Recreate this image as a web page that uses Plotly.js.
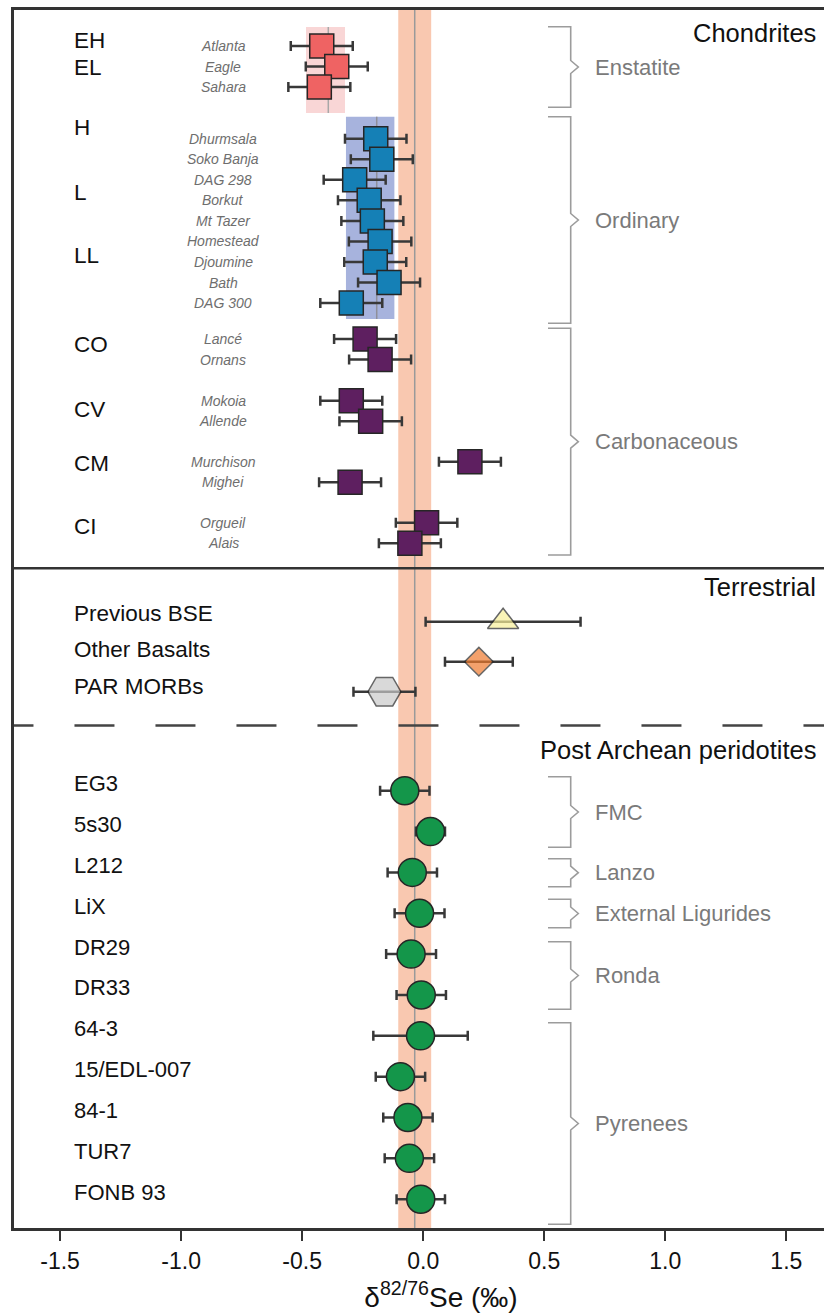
<!DOCTYPE html>
<html><head><meta charset="utf-8">
<script src="https://cdn.plot.ly/plotly-3.0.1.min.js"></script>
<style>html,body{margin:0;padding:0;overflow:hidden;background:#fff;width:824px;height:1314px}#chart{width:868px;height:1314px}</style>
</head><body><div id="chart"></div>
<script>
// ---------------- data ----------------
const enstatiteSamples = ['Atlanta','Eagle','Sahara'];
const enstatiteDelta   = [-0.419,-0.357,-0.429];
const enstatiteErr     = [0.128,0.128,0.128];

const ordinarySamples = ['Dhurmsala','Soko Banja','DAG 298','Borkut','Mt Tazer','Homestead','Djoumine','Bath','DAG 300'];
const ordinaryDelta   = [-0.196,-0.171,-0.283,-0.223,-0.210,-0.178,-0.198,-0.141,-0.297];
const ordinaryErr     = [0.127,0.128,0.128,0.129,0.128,0.129,0.128,0.128,0.128];

const carbonSamples = ['Lancé','Ornans','Mokoia','Allende','Murchison','Mighei','Orgueil','Alais'];
const carbonDelta   = [-0.240,-0.178,-0.297,-0.217,0.193,-0.302,0.014,-0.055];
const carbonErr     = [0.128,0.128,0.128,0.129,0.128,0.128,0.127,0.128];

const chondriteGroupLabels = ['EH','EL','H','L','LL','CO','CV','CM','CI'];

const terrestrialLabels = ['Previous BSE','Other Basalts','PAR MORBs'];
const terrestrialDelta  = [0.33,0.23,-0.16];
const terrestrialErr    = [0.32,0.14,0.128];

const peridotiteSamples = ['EG3','5s30','L212','LiX','DR29','DR33','64-3','15/EDL-007','84-1','TUR7','FONB 93'];
const peridotiteDelta   = [-0.076,0.030,-0.045,-0.015,-0.050,-0.008,-0.011,-0.094,-0.063,-0.057,-0.010];
const peridotiteErr     = [0.102,0.060,0.102,0.103,0.103,0.102,0.195,0.102,0.102,0.102,0.100];

const bracketLabels = ['Enstatite','Ordinary','Carbonaceous','FMC','Lanzo','External Ligurides','Ronda','Pyrenees'];
const sectionTitles = ['Chondrites','Terrestrial','Post Archean peridotites'];

const bseMean = -0.035, bseHalfWidth = 0.068;
const enstatiteMean = -0.392, enstatiteRange = [-0.484,-0.323];
const ordinaryMean  = -0.192, ordinaryRange  = [-0.319,-0.119];

const xTickVals = [-1.5,-1.0,-0.5,0.0,0.5,1.0,1.5];
const xTickText = ['-1.5','-1.0','-0.5','0.0','0.5','1.0','1.5'];

// ---------------- layout geometry (vertical row slots) ----------------
const rowStep = 20.55;
function rows(start, n, step){ const r=[]; for(let i=0;i<n;i++) r.push(start+i*step); return r; }
const enstatiteY = rows(46,3,rowStep);
const ordinaryY  = rows(138.7,9,rowStep);
const carbonY    = [].concat(rows(339,2,rowStep),rows(400.7,2,rowStep),rows(461.7,2,rowStep),rows(522.7,2,rowStep));
const groupLabelY = [40,67.7,127.7,192.7,255.7,344,409.3,463.3,526.7];
const terrestrialY = [621.7,661.7,691.7];
const terrestrialLabelY = [613.5,649.3,686.7];
const peridotiteY = rows(790.7,11,40.85);
const bracketTop = [26.7,116.7,328.3,776.7,858.7,899.3,941.7,1022.7];
const bracketBot = [107.3,323.3,555,847.3,886.7,927.7,1009.3,1224.3];
const sectionTitleY = [33.3,586.7,750];

const FONT = 'Liberation Sans, Arial, Helvetica, sans-serif';
const errStyle = (arr)=>({type:'data',array:arr,visible:true,color:'#383838',thickness:2.5,width:5});
const outline = {color:'#262626',width:1.5};

const traces = [
  {x:enstatiteDelta,y:enstatiteY,mode:'markers',type:'scatter',error_x:errStyle(enstatiteErr),
   marker:{symbol:'square',size:24,color:'#ef6363',line:outline},hoverinfo:'x'},
  {x:ordinaryDelta,y:ordinaryY,mode:'markers',type:'scatter',error_x:errStyle(ordinaryErr),
   marker:{symbol:'square',size:24,color:'#1580b6',line:outline},hoverinfo:'x'},
  {x:carbonDelta,y:carbonY,mode:'markers',type:'scatter',error_x:errStyle(carbonErr),
   marker:{symbol:'square',size:24,color:'#5e1f60',line:outline},hoverinfo:'x'},
  {x:terrestrialDelta,y:terrestrialY,mode:'markers',type:'scatter',error_x:errStyle(terrestrialErr),
   marker:{symbol:['triangle-up','diamond','hexagon2'],size:[27,22,33],color:['#f8f09a','#ee7a2e','#c9c9c9'],line:outline},hoverinfo:'x'},
  {x:peridotiteDelta,y:peridotiteY,mode:'markers',type:'scatter',error_x:errStyle(peridotiteErr),
   marker:{symbol:'circle',size:28,color:'#14964a',line:outline},hoverinfo:'x'}
];

const shapes = [
  // BSE band
  {type:'rect',xref:'x',yref:'paper',x0:bseMean-bseHalfWidth,x1:bseMean+bseHalfWidth,y0:0,y1:1,fillcolor:'#f9c8b0',line:{width:0},layer:'below'},
  {type:'line',xref:'x',yref:'paper',x0:bseMean,x1:bseMean,y0:0,y1:1,line:{color:'#9a9a9a',width:1.5},layer:'below'},
  // enstatite band
  {type:'rect',xref:'x',yref:'y',x0:enstatiteRange[0],x1:enstatiteRange[1],y0:27,y1:113,fillcolor:'#f9d6d6',line:{width:0},layer:'below'},
  {type:'line',xref:'x',yref:'y',x0:enstatiteMean,x1:enstatiteMean,y0:27,y1:113,line:{color:'#a8a8a8',width:1.5},layer:'below'},
  // ordinary band
  {type:'rect',xref:'x',yref:'y',x0:ordinaryRange[0],x1:ordinaryRange[1],y0:116.7,y1:319,fillcolor:'#a7b3dd',line:{width:0},layer:'below'},
  {type:'line',xref:'x',yref:'y',x0:ordinaryMean,x1:ordinaryMean,y0:116.7,y1:319,line:{color:'#8f8f9a',width:1.5},layer:'below'},
  // section separators
  {type:'line',xref:'paper',yref:'y',x0:0,x1:1,y0:568.3,y1:568.3,line:{color:'#333',width:2.5}},
  {type:'line',xref:'x',yref:'y',x0:-1.775,x1:1.9,y0:725.5,y1:725.5,line:{color:'#444',width:2.5,dash:'40px,41px'}}
];

// brackets
const bx0=0.5155, bx1=0.6093, bx2=0.6407;
for(let i=0;i<bracketLabels.length;i++){
  const t=bracketTop[i], b=bracketBot[i], m=(t+b)/2;
  shapes.push({type:'path',xref:'x',yref:'y',
    path:`M${bx0},${t} L${bx1},${t} L${bx1},${m-6.5} L${bx2},${m} L${bx1},${m+6.5} L${bx1},${b} L${bx0},${b}`,
    line:{color:'#9c9c9c',width:1.6}});
}

const annotations = [];
const ann = (o)=>annotations.push(Object.assign({xref:'x',yref:'y',showarrow:false},o));
sectionTitles.forEach((t,i)=>ann({text:t,x:1.63,y:sectionTitleY[i],xanchor:'right',yanchor:'middle',font:{family:FONT,size:25.5,color:'#111'}}));
chondriteGroupLabels.forEach((t,i)=>ann({text:t,x:-1.452,y:groupLabelY[i],xanchor:'left',yanchor:'middle',font:{family:FONT,size:22.5,color:'#111'}}));
const sampleNames = enstatiteSamples.concat(ordinarySamples,carbonSamples);
const sampleY = enstatiteY.concat(ordinaryY,carbonY);
sampleNames.forEach((t,i)=>ann({text:'<i>'+t+'</i>',x:-0.826,y:sampleY[i],xanchor:'center',yanchor:'middle',font:{family:FONT,size:14,color:'#6e6e6e'}}));
terrestrialLabels.forEach((t,i)=>ann({text:t,x:-1.452,y:terrestrialLabelY[i],xanchor:'left',yanchor:'middle',font:{family:FONT,size:22.5,color:'#111'}}));
peridotiteSamples.forEach((t,i)=>ann({text:t,x:-1.452,y:peridotiteY[i]-7,xanchor:'left',yanchor:'middle',font:{family:FONT,size:22,color:'#111'}}));
bracketLabels.forEach((t,i)=>ann({text:t,x:0.700,y:(bracketTop[i]+bracketBot[i])/2,xanchor:'left',yanchor:'middle',font:{family:FONT,size:22,color:'#7a7a7a'}}));

const layout = {
  width:868,height:1314,
  margin:{l:14,r:0,t:10,b:86},
  paper_bgcolor:'#fff',plot_bgcolor:'#fff',
  showlegend:false,
  font:{family:FONT,color:'#111'},
  xaxis:{range:[-1.6902,1.8373],showgrid:false,zeroline:false,showline:true,linecolor:'#333',linewidth:3,mirror:true,
    ticks:'outside',ticklen:10,tickwidth:2,tickcolor:'#333',tickvals:xTickVals,ticktext:xTickText,
    tickfont:{family:FONT,size:23,color:'#111'},
    title:{text:'δ<sup>82/76</sup>Se (‰)',font:{family:FONT,size:28,color:'#111'},standoff:15}},
  yaxis:{range:[1228,10],showgrid:false,zeroline:false,showline:true,linecolor:'#333',linewidth:3,
    showticklabels:false,ticks:''},
  shapes:shapes,annotations:annotations
};
Plotly.newPlot('chart',traces,layout,{staticPlot:true,displayModeBar:false});
</script></body></html>
